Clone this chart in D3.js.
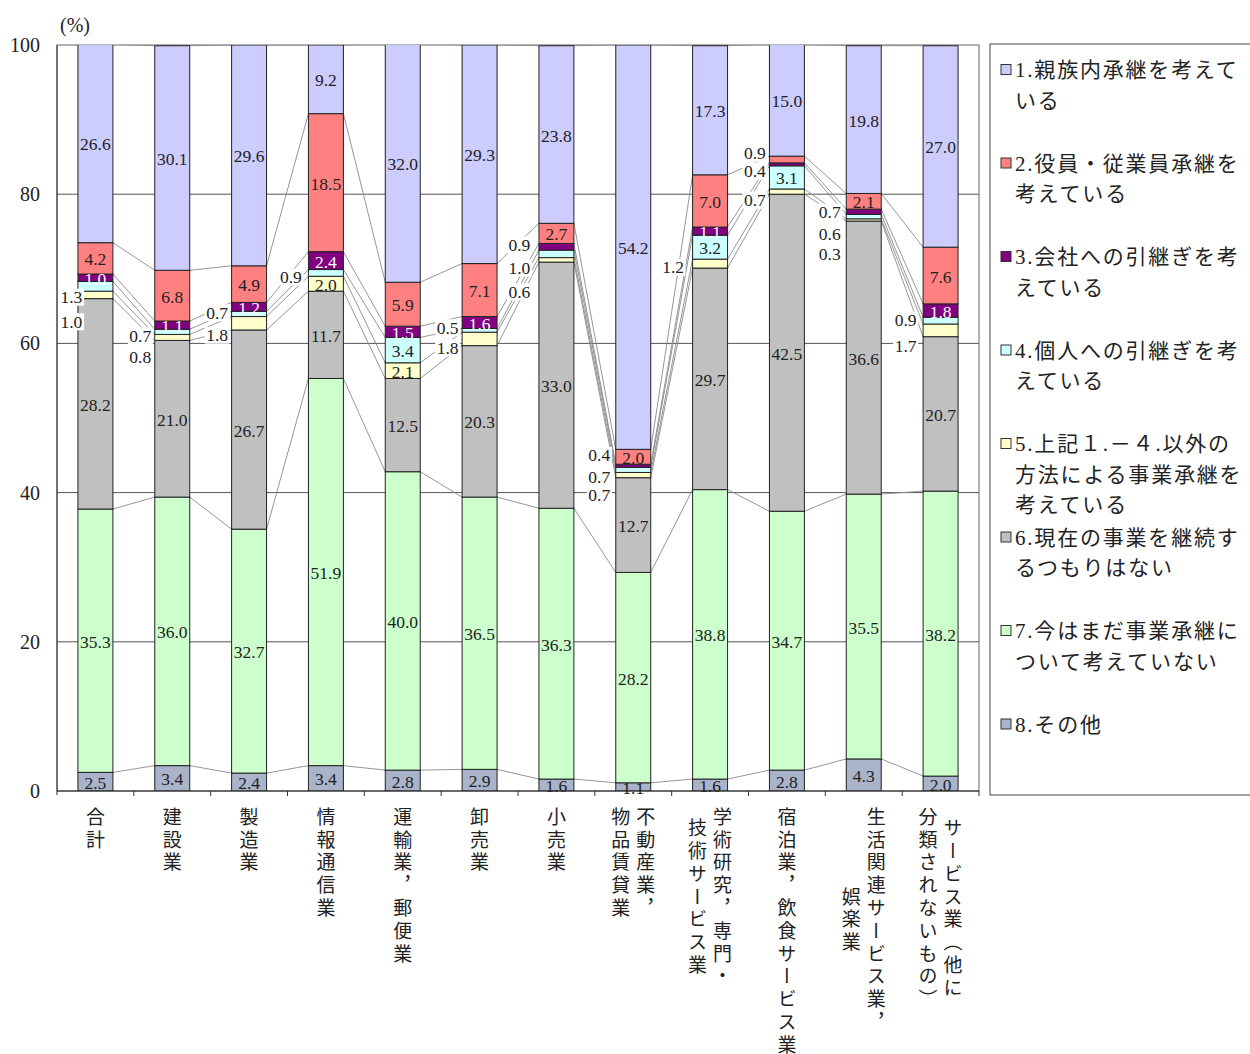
<!DOCTYPE html>
<html>
<head>
<meta charset="utf-8" />
<script src="https://cdn.jsdelivr.net/npm/d3@7"></script>
<style>
    body { margin: 0; background: #fff; }
    svg { display: block; }
    text { fill: #222; }
    .vlabel { writing-mode: vertical-rl; text-orientation: mixed; }
</style>
</head>
<body>
<div id="chartRoot"></div>
<script>
    const SERIF = "'Liberation Serif', 'Times New Roman', 'DejaVu Serif', 'Noto Sans CJK JP', serif";
    const CJK = "'Noto Sans CJK JP', sans-serif";

    // categories (vertical labels, one entry per column of text)
    const categories = ["合計", "建設業", "製造業", "情報通信業", "運輸業，郵便業", "卸売業", "小売業",
        "不動産業，物品賃貸業", "学術研究，専門・技術サービス業", "宿泊業，飲食サービス業",
        "生活関連サービス業，娯楽業", "サービス業（他に分類されないもの）"];
    const categoryColumns = [["合計"], ["建設業"], ["製造業"], ["情報通信業"], ["運輸業，郵便業"], ["卸売業"], ["小売業"],
        ["不動産業，", "物品賃貸業"], ["学術研究，専門・", "技術サービス業"], ["宿泊業，飲食サービス業"],
        ["生活関連サービス業，", "娯楽業"], ["サービス業（他に", "分類されないもの）"]];

    const seriesNames = [
        ["1.親族内承継を考えて", "いる"],
        ["2.役員・従業員承継を", "考えている"],
        ["3.会社への引継ぎを考", "えている"],
        ["4.個人への引継ぎを考", "えている"],
        ["5.上記１.－４.以外の", "方法による事業承継を", "考えている"],
        ["6.現在の事業を継続す", "るつもりはない"],
        ["7.今はまだ事業承継に", "ついて考えていない"],
        ["8.その他"]
    ];

    const v1 = [26.6, 30.1, 29.6, 9.2, 32.0, 29.3, 23.8, 54.2, 17.3, 15.0, 19.8, 27.0];
    const v2 = [4.2, 6.8, 4.9, 18.5, 5.9, 7.1, 2.7, 2.0, 7.0, 0.9, 2.1, 7.6];
    const v3 = [1.0, 1.1, 1.2, 2.4, 1.5, 1.6, 0.9, 0.4, 1.1, 0.4, 0.7, 1.8];
    const v4 = [1.3, 0.7, 0.7, 0.9, 3.4, 0.5, 1.0, 0.7, 3.2, 3.1, 0.6, 0.9];
    const v5 = [1.0, 0.8, 1.8, 2.0, 2.1, 1.8, 0.6, 0.7, 1.2, 0.7, 0.3, 1.7];
    const v6 = [28.2, 21.0, 26.7, 11.7, 12.5, 20.3, 33.0, 12.7, 29.7, 42.5, 36.6, 20.7];
    const v7 = [35.3, 36.0, 32.7, 51.9, 40.0, 36.5, 36.3, 28.2, 38.8, 34.7, 35.5, 38.2];
    const v8 = [2.5, 3.4, 2.4, 3.4, 2.8, 2.9, 1.6, 1.1, 1.6, 2.8, 4.3, 2.0];

    const yTicks = [0, 20, 40, 60, 80, 100];

    const colors = ["#CCCCFF", "#FF8080", "#800080", "#CCFFFF", "#FFFFCC", "#C0C0C0", "#CCFFCC", "#A9B3CA"];

    // labels that sit outside the bar: [category, series(0-based), y position in %, x shift px]
    const outsideLabels = [
        [0, 3, 66.2, -24], [0, 4, 62.9, -24],
        [1, 3, 61.0, -32], [1, 4, 58.2, -32],
        [2, 3, 64.1, -32], [2, 4, 61.1, -32],
        [3, 3, 68.9, -35],
        [5, 3, 62.1, -32], [5, 4, 59.4, -32],
        [6, 2, 73.2, -37], [6, 3, 70.1, -37], [6, 4, 66.9, -37],
        [7, 2, 45.0, -34], [7, 3, 42.1, -34], [7, 4, 39.7, -34],
        [8, 4, 70.2, -37],
        [9, 1, 85.5, -32], [9, 2, 83.1, -32], [9, 4, 79.2, -32],
        [10, 2, 77.6, -34], [10, 3, 74.7, -34], [10, 4, 72.0, -34],
        [11, 3, 63.1, -35], [11, 4, 59.7, -35]
    ];

    const values = [v1, v2, v3, v4, v5, v6, v7, v8];
    const rows = categories.map((c, i) => {
        const r = { cat: c };
        values.forEach((v, s) => r["s" + s] = v[i]);
        return r;
    });
    // stack from bottom: series 8 first
    const keys = ["s7", "s6", "s5", "s4", "s3", "s2", "s1", "s0"];
    const stacked = d3.stack().keys(keys)(rows);

    const W = 1250, H = 1054;
    const plot = { left: 57, right: 979, top: 45, bottom: 791 };

    const svg = d3.select("#chartRoot").append("svg")
        .attr("width", W).attr("height", H);

    const x = d3.scaleBand().domain(categories).range([plot.left, plot.right]);
    const barW = x.bandwidth() * 0.455;
    const barX = c => x(c) + (x.bandwidth() - barW) / 2;
    const cx = c => x(c) + x.bandwidth() / 2;

    const y = d3.scaleLinear().domain([0, 100]).range([plot.bottom, plot.top]);

    svg.append("clipPath").attr("id", "plotClip")
        .append("rect")
        .attr("x", plot.left).attr("y", plot.top)
        .attr("width", plot.right - plot.left).attr("height", plot.bottom - plot.top);

    // gridlines
    svg.append("g").selectAll("line")
        .data(yTicks.filter(t => t > 0 && t < 100))
        .enter().append("line")
        .attr("x1", plot.left).attr("x2", plot.right)
        .attr("y1", d => y(d)).attr("y2", d => y(d))
        .attr("stroke", "#555").attr("stroke-width", 1);

    // plot border
    svg.append("rect")
        .attr("x", plot.left).attr("y", plot.top)
        .attr("width", plot.right - plot.left).attr("height", plot.bottom - plot.top)
        .attr("fill", "none").attr("stroke", "#666").attr("stroke-width", 1);

    // series lines between adjacent bars
    const lineG = svg.append("g").attr("clip-path", "url(#plotClip)");
    stacked.forEach(layer => {
        for (let i = 0; i < categories.length - 1; i++) {
            const a = layer[i], b = layer[i + 1];
            lineG.append("line")
                .attr("x1", barX(categories[i]) + barW)
                .attr("x2", barX(categories[i + 1]))
                .attr("y1", y(a[1])).attr("y2", y(b[1]))
                .attr("stroke", "#8a8a8a").attr("stroke-width", 0.9);
        }
    });

    // bars
    const barG = svg.append("g").attr("clip-path", "url(#plotClip)");
    stacked.forEach(layer => {
        const sIdx = +layer.key.slice(1);
        barG.append("g").selectAll("rect")
            .data(layer)
            .enter().append("rect")
            .attr("x", d => barX(d.data.cat))
            .attr("y", d => y(d[1]))
            .attr("width", barW)
            .attr("height", d => y(d[0]) - y(d[1]))
            .attr("fill", colors[sIdx])
            .attr("stroke", "#222").attr("stroke-width", 1);
    });

    // data labels
    const outsideKey = new Map(outsideLabels.map(o => [o[0] + "_" + o[1], o]));
    const labelG = svg.append("g");
    stacked.forEach(layer => {
        const sIdx = +layer.key.slice(1);
        layer.forEach((d, i) => {
            const val = values[sIdx][i];
            const txt = val.toFixed(1);
            const o = outsideKey.get(i + "_" + sIdx);
            if (o) {
                const lx = cx(categories[i]) + o[3];
                const ly = y(o[2]);
                const t = labelG.append("text")
                    .attr("x", lx).attr("y", ly)
                    .attr("text-anchor", "middle").attr("dominant-baseline", "central")
                    .style("font-family", SERIF)
                    .attr("font-size", 17.5).text(txt);
                const bb = t.node().getBBox();
                labelG.insert("rect", () => t.node())
                    .attr("x", bb.x - 1.5).attr("y", ly - 8.5)
                    .attr("width", bb.width + 3).attr("height", 17)
                    .attr("fill", "#fff");
            } else {
                labelG.append("text")
                    .attr("x", cx(categories[i]))
                    .attr("y", y((d[0] + d[1]) / 2) + 1)
                    .attr("text-anchor", "middle").attr("dominant-baseline", "central")
                    .attr("font-size", 17.5)
                    .style("font-family", SERIF)
                    .style("fill", sIdx === 2 ? "#fff" : "#222")
                    .text(txt);
            }
        });
    });

    // bottom axis line + ticks at category boundaries
    svg.append("line")
        .attr("x1", plot.left).attr("x2", plot.right)
        .attr("y1", plot.bottom).attr("y2", plot.bottom)
        .attr("stroke", "#222").attr("stroke-width", 1.2);
    svg.append("line")
        .attr("x1", plot.left).attr("x2", plot.left)
        .attr("y1", plot.top).attr("y2", plot.bottom + 4)
        .attr("stroke", "#333").attr("stroke-width", 1);
    svg.append("g").selectAll("line")
        .data(categories.slice(1).concat(["__end"]))
        .enter().append("line")
        .attr("x1", d => d === "__end" ? plot.right : x(d))
        .attr("x2", d => d === "__end" ? plot.right : x(d))
        .attr("y1", plot.bottom).attr("y2", plot.bottom + 5)
        .attr("stroke", "#333").attr("stroke-width", 1);

    // y axis labels
    const yAxis = svg.append("g")
        .attr("transform", `translate(${plot.left},0)`)
        .call(d3.axisLeft(y).tickValues(yTicks).tickSize(0).tickPadding(17));
    yAxis.select(".domain").remove();
    yAxis.selectAll("text")
        .attr("font-size", 20)
        .style("font-family", SERIF)
        .style("fill", "#222");

    svg.append("text")
        .attr("x", 75).attr("y", 25)
        .attr("text-anchor", "middle").attr("dominant-baseline", "central")
        .style("font-family", SERIF)
        .attr("font-size", 20).text("(%)");

    // vertical category labels: one vertical text per column
    const fs = 19, step = 22.8, top0 = 807, colGap = 25;
    categoryColumns.forEach((cols, i) => {
        const maxLen = d3.max(cols, c => c.length);
        const center = cx(categories[i]);
        cols.forEach((col, k) => {
            const colX = center + (cols.length - 1) * colGap / 2 - k * colGap;
            const offset = (maxLen - col.length) * step / 2;
            svg.append("text")
                .attr("class", "vlabel")
                .attr("x", colX).attr("y", top0 + offset)
                .attr("font-size", fs)
                .style("font-family", CJK)
                .style("letter-spacing", (step - fs) + "px")
                .text(col);
        });
    });

    // legend
    const lg = svg.append("g");
    lg.append("rect")
        .attr("x", 990).attr("y", 44).attr("width", 280).attr("height", 751)
        .attr("fill", "#fff").attr("stroke", "#444").attr("stroke-width", 1);
    seriesNames.forEach((lines, s) => {
        const ly = 70 + s * 93.5;
        lg.append("rect")
            .attr("x", 1001).attr("y", ly - 5.5).attr("width", 10).attr("height", 10)
            .attr("fill", colors[s]).attr("stroke", "#333").attr("stroke-width", 1);
        lines.forEach((ln, k) => {
            lg.append("text")
                .attr("x", 1015).attr("y", ly + k * 30.5)
                .attr("dominant-baseline", "central")
                .attr("font-size", 21)
                .style("font-family", SERIF)
                .style("letter-spacing", "1.8px")
                .text(ln);
        });
    });
</script>
</body>
</html>
